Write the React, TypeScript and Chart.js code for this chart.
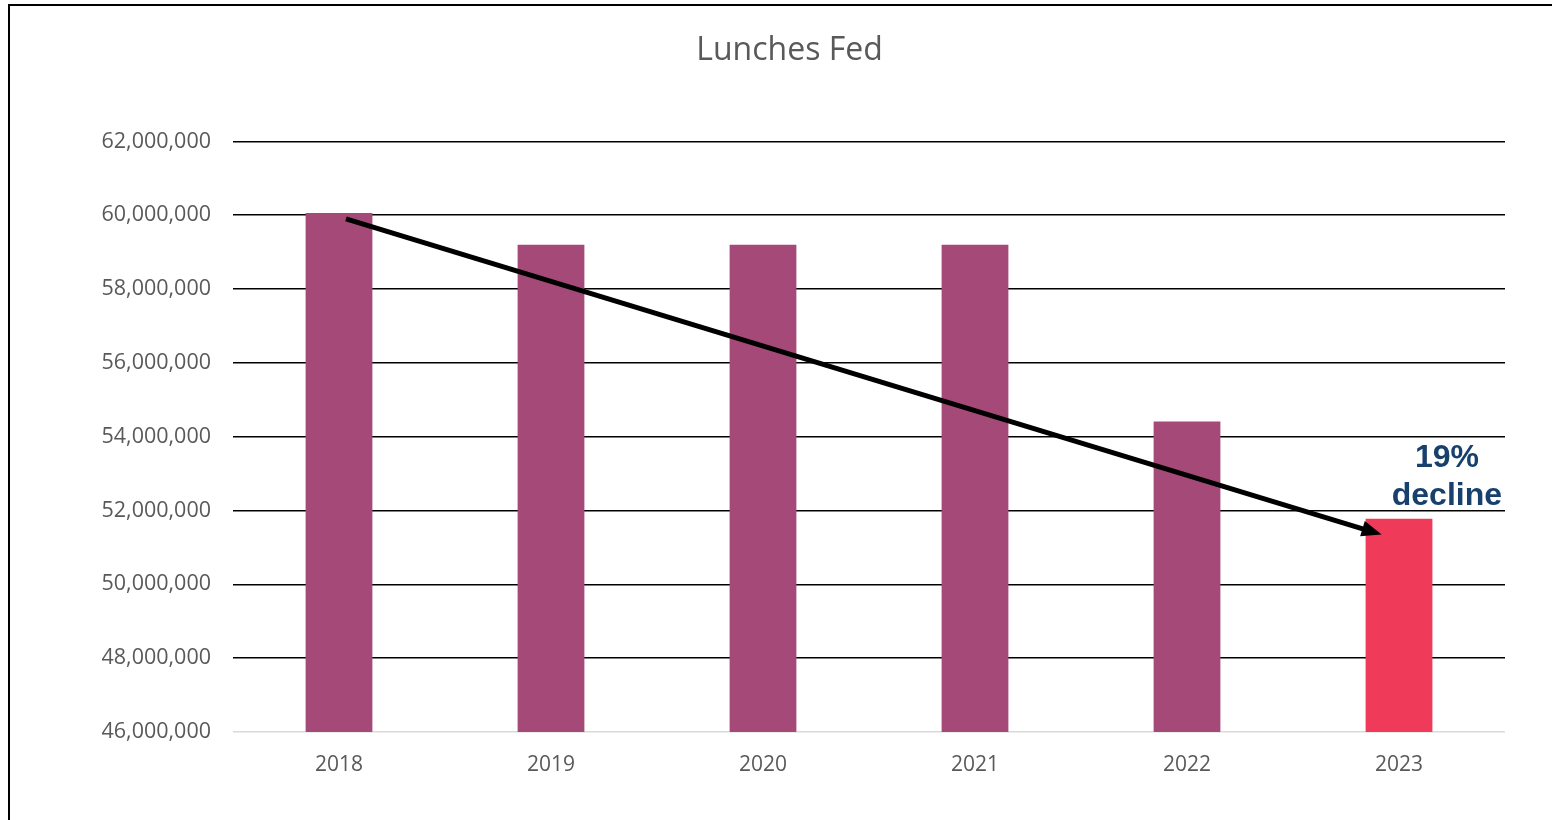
import React, { useEffect, useRef } from "react";
import { Chart, registerables } from "chart.js";

Chart.register(...registerables);

const categories = ["2018", "2019", "2020", "2021", "2022", "2023"];
const lunchesFed = [60060000, 59200000, 59200000, 59200000, 54410000, 51780000];
const barColors = ["#A54A78", "#A54A78", "#A54A78", "#A54A78", "#A54A78", "#EF3A5A"];
const yTicks = { min: 46000000, max: 62000000, step: 2000000 };
// trend arrow in data coordinates: [category index, value]
const arrowStart = [0.033, 59900000];
const arrowEnd = [4.918, 51350000];
// annotation anchor in data coordinates
const annotationAnchor = [5.226, 52920000];
const annotationLines = ["19%", "decline"];
const chartTitle = "Lunches Fed";

const CANVAS_W = 1542;
const CANVAS_H = 814;

export default function App() {
  const ref = useRef<HTMLCanvasElement | null>(null);

  useEffect(() => {
    document.body.style.overflow = "hidden";
    const canvas = ref.current;
    if (!canvas) return;

    const overlay = {
      id: "overlay",
      afterDatasetsDraw(chart: any) {
        const ctx = chart.ctx;
        const xs = chart.scales.x;
        const ys = chart.scales.y;
        const pos = (p: number[]) => {
          const x0 = xs.getPixelForValue(0);
          const x1 = xs.getPixelForValue(1);
          return [x0 + (x1 - x0) * p[0], ys.getPixelForValue(p[1])];
        };
        const [sx, sy] = pos(arrowStart);
        const [ex, ey] = pos(arrowEnd);
        const ang = Math.atan2(ey - sy, ex - sx);
        const headLen = 20;
        const headW = 8;
        ctx.save();
        ctx.strokeStyle = "#000";
        ctx.fillStyle = "#000";
        ctx.lineWidth = 5;
        ctx.lineCap = "butt";
        ctx.beginPath();
        ctx.moveTo(sx, sy);
        ctx.lineTo(ex - Math.cos(ang) * (headLen - 2), ey - Math.sin(ang) * (headLen - 2));
        ctx.stroke();
        const bx = ex - Math.cos(ang) * headLen;
        const by = ey - Math.sin(ang) * headLen;
        ctx.beginPath();
        ctx.moveTo(ex, ey);
        ctx.lineTo(bx + Math.sin(ang) * headW, by - Math.cos(ang) * headW);
        ctx.lineTo(bx - Math.sin(ang) * headW, by + Math.cos(ang) * headW);
        ctx.closePath();
        ctx.fill();

        const [ax, ay] = pos(annotationAnchor);
        ctx.font = "bold 32px 'Liberation Sans', Arial, sans-serif";
        ctx.fillStyle = "#17406D";
        ctx.textAlign = "center";
        ctx.textBaseline = "middle";
        const lh = 38;
        annotationLines.forEach((t, i) => {
          ctx.fillText(t, ax, ay + 1 + (i - (annotationLines.length - 1) / 2) * lh);
        });
        ctx.restore();
      },
    };

    const chart = new Chart(canvas, {
      type: "bar",
      data: {
        labels: categories,
        datasets: [
          {
            label: chartTitle,
            data: lunchesFed,
            backgroundColor: barColors,
            borderWidth: 0,
            barPercentage: 0.315,
            categoryPercentage: 1,
          },
        ],
      },
      options: {
        responsive: false,
        animation: false,
        devicePixelRatio: 1,
        layout: { padding: { left: 64, right: 47, top: 0, bottom: 0 } },
        plugins: {
          legend: { display: false },
          tooltip: { enabled: false },
          title: {
            display: true,
            text: chartTitle,
            color: "#595959",
            font: { family: "'Open Sans', sans-serif", size: 32, weight: "normal", lineHeight: 1.2 },
            padding: { top: 26, bottom: 71 },
          },
        },
        scales: {
          x: {
            grid: { display: false, drawTicks: false },
            border: { display: false },
            ticks: {
              color: "#595959",
              font: { family: "'Open Sans', sans-serif", size: 21 },
              padding: 20,
            },
            afterFit(scale: any) {
              scale.height = 88;
            },
          },
          y: {
            min: yTicks.min,
            max: yTicks.max,
            grid: {
              drawTicks: false,
              color: (c: any) => (c.tick && c.tick.value === yTicks.min ? "#D9D9D9" : "#000000"),
              lineWidth: 1.6,
            },
            border: { display: false },
            ticks: {
              stepSize: yTicks.step,
              color: "#595959",
              font: { family: "'Open Sans', sans-serif", size: 21.5 },
              padding: 22,
              callback: (v: any) => Number(v).toLocaleString("en-US"),
            },
            afterFit(scale: any) {
              scale.width = 159;
            },
          },
        },
      },
      plugins: [overlay],
    } as any);

    return () => chart.destroy();
  }, []);

  return (
    <div style={{ position: "fixed", inset: 0, overflow: "hidden", background: "#fff" }}>
      <div
        style={{
          position: "absolute",
          left: 8,
          top: 4,
          width: 1600,
          height: 900,
          border: "2px solid #000",
          boxSizing: "border-box",
          background: "#fff",
        }}
      >
        <canvas
          ref={ref}
          width={CANVAS_W}
          height={CANVAS_H}
          style={{ position: "absolute", left: 0, top: 0, width: CANVAS_W, height: CANVAS_H }}
        />
      </div>
    </div>
  );
}
